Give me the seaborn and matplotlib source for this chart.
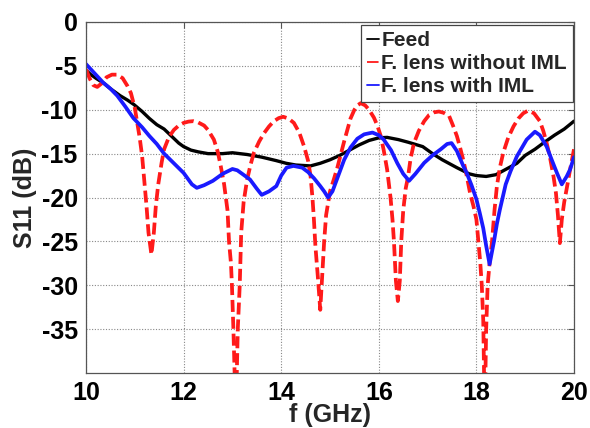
import matplotlib
matplotlib.use("Agg")
import matplotlib.pyplot as plt
import seaborn as sns
import pandas as pd

# Feed horn alone
feed_f = [10.00, 10.10, 10.20, 10.37, 10.50, 10.70, 10.85, 10.98, 11.15, 11.30,
          11.45, 11.60, 11.75, 11.90, 12.00, 12.15, 12.30, 12.50, 12.80, 13.00,
          13.30, 13.60, 13.90, 14.10, 14.30, 14.60, 14.80, 15.00, 15.20, 15.40,
          15.60, 15.80, 16.00, 16.17, 16.40, 16.60, 16.90, 17.10, 17.30, 17.60,
          17.85, 18.00, 18.20, 18.40, 18.60, 18.83, 19.00, 19.20, 19.37, 19.60,
          19.80, 20.00]
feed_s11 = [-5.5, -6.0, -6.4, -7.0, -7.6, -8.4, -8.9, -9.4, -10.2, -11.0,
            -11.7, -12.2, -13.0, -13.8, -14.2, -14.6, -14.8, -15.0, -15.0, -14.9,
            -15.1, -15.4, -15.8, -16.1, -16.3, -16.4, -16.1, -15.7, -15.2, -14.6,
            -14.0, -13.5, -13.2, -13.15, -13.4, -13.7, -14.2, -15.0, -15.7, -16.6,
            -17.3, -17.5, -17.6, -17.4, -16.8, -16.1, -15.2, -14.5, -13.8, -12.9,
            -12.2, -11.3]

# Fresnel lens without impedance matching layer
nolayer_f = [10.00, 10.08, 10.15, 10.23, 10.32, 10.42, 10.53, 10.64, 10.75, 10.85,
             10.92, 11.00, 11.05, 11.10, 11.15, 11.20, 11.24, 11.28, 11.34, 11.39,
             11.43, 11.48, 11.55, 11.60, 11.70, 11.80, 11.90, 12.00, 12.10, 12.20,
             12.30, 12.42, 12.50, 12.62, 12.70, 12.76, 12.83, 12.90, 12.93, 12.97,
             12.99, 13.02, 13.07, 13.11, 13.15, 13.18, 13.23, 13.30, 13.37, 13.44,
             13.55, 13.65, 13.75, 13.85, 13.95, 14.04, 14.15, 14.26, 14.37, 14.47,
             14.55, 14.60, 14.64, 14.67, 14.70, 14.75, 14.80, 14.84, 14.88, 14.92,
             15.00, 15.08, 15.15, 15.22, 15.29, 15.36, 15.42, 15.50, 15.56, 15.63,
             15.72, 15.80, 15.90, 15.97, 16.04, 16.10, 16.17, 16.24, 16.28, 16.31,
             16.35, 16.39, 16.43, 16.46, 16.50, 16.55, 16.60, 16.65, 16.72, 16.82,
             16.93, 17.03, 17.13, 17.23, 17.33, 17.44, 17.52, 17.60, 17.66, 17.73,
             17.80, 17.87, 17.94, 18.00, 18.04, 18.08, 18.11, 18.14, 18.17, 18.20,
             18.23, 18.27, 18.32, 18.37, 18.42, 18.48, 18.55, 18.65, 18.76, 18.86,
             18.96, 19.06, 19.18, 19.30, 19.37, 19.44, 19.51, 19.58, 19.63, 19.67,
             19.71, 19.75, 19.80, 19.85, 19.92, 20.00]
nolayer_s11 = [-5.4, -6.5, -7.2, -7.4, -7.0, -6.3, -6.0, -6.0, -6.4, -7.3,
               -8.1, -9.8, -11.5, -13.2, -15.3, -18.5, -21.0, -24.0, -26.5, -24.0,
               -21.0, -18.5, -16.0, -14.5, -13.1, -12.3, -11.8, -11.5, -11.35, -11.3,
               -11.45, -11.8, -12.3, -13.4, -14.8, -16.4, -18.5, -21.5, -25.0, -27.5,
               -30.0, -35.0, -45.0, -35.0, -30.0, -24.0, -20.5, -18.0, -16.3, -14.9,
               -13.6, -12.65, -11.9, -11.3, -10.95, -10.8, -11.0, -11.5, -12.6, -14.2,
               -15.8, -17.5, -20.0, -22.5, -25.5, -29.0, -32.8, -29.0, -25.0, -22.0,
               -19.3, -17.9, -16.6, -15.1, -13.6, -12.2, -11.0, -10.0, -9.5, -9.25,
               -9.5, -10.0, -10.9, -11.8, -13.0, -14.6, -16.8, -20.0, -22.5, -25.0,
               -29.5, -31.8, -29.5, -25.0, -21.5, -19.0, -17.6, -15.6, -13.8, -12.4,
               -11.3, -10.6, -10.3, -10.2, -10.35, -10.7, -11.8, -13.0, -14.2, -15.7,
               -17.5, -19.5, -21.0, -22.5, -25.0, -27.5, -30.0, -34.0, -45.0, -35.0,
               -30.0, -27.5, -25.0, -21.5, -18.7, -16.6, -14.9, -13.2, -11.9, -11.0,
               -10.4, -10.1, -10.4, -11.3, -12.4, -13.8, -15.5, -17.6, -19.5, -22.0,
               -25.2, -22.5, -20.5, -19.0, -16.8, -14.5]

# Fresnel lens with impedance matching layer
layer_f = [10.00, 10.10, 10.20, 10.35, 10.50, 10.64, 10.80, 10.97, 11.15, 11.30,
           11.45, 11.60, 11.80, 12.00, 12.17, 12.27, 12.42, 12.60, 12.80, 13.00,
           13.10, 13.20, 13.36, 13.50, 13.60, 13.75, 13.90, 14.00, 14.11, 14.25,
           14.43, 14.55, 14.67, 14.80, 14.88, 14.96, 15.05, 15.15, 15.29, 15.42,
           15.56, 15.70, 15.87, 16.00, 16.10, 16.25, 16.38, 16.50, 16.62, 16.75,
           16.93, 17.10, 17.27, 17.40, 17.49, 17.60, 17.73, 17.80, 17.90, 18.00,
           18.07, 18.14, 18.20, 18.27, 18.36, 18.42, 18.48, 18.60, 18.70, 18.83,
           19.03, 19.20, 19.30, 19.44, 19.55, 19.65, 19.75, 19.85, 19.92, 20.00]
layer_s11 = [-4.8, -5.4, -6.0, -6.9, -7.6, -8.4, -9.6, -10.95, -12.0, -13.0,
             -13.9, -15.0, -16.1, -17.2, -18.5, -18.9, -18.6, -18.1, -17.3, -16.75,
             -16.9, -17.3, -17.95, -19.0, -19.7, -19.3, -18.7, -17.5, -16.6, -16.4,
             -16.6, -17.1, -17.8, -18.7, -19.3, -20.0, -19.3, -17.8, -15.7, -14.3,
             -13.3, -12.8, -12.6, -12.9, -13.4, -14.6, -16.1, -17.3, -18.1, -17.3,
             -16.05, -15.2, -14.5, -13.9, -13.8, -14.7, -16.4, -17.2, -18.6, -20.2,
             -21.8, -23.5, -25.5, -27.6, -25.0, -23.0, -21.4, -18.5, -17.0, -15.3,
             -13.4, -12.5, -12.9, -14.2, -15.8, -17.2, -18.5, -17.6, -16.8, -15.4]

series_labels = ["Feed", "F. lens without IML", "F. lens with IML"]
x_ticks = [10, 12, 14, 16, 18, 20]
y_ticks = [0, -5, -10, -15, -20, -25, -30, -35]

sns.set_theme(style="white")
plt.rcParams["font.family"] = ["Liberation Sans", "DejaVu Sans"]
plt.rcParams["font.weight"] = "bold"

fig = plt.figure(figsize=(5.90, 4.28), dpi=100)
ax = fig.add_axes([0.1458, 0.1285, 0.8271, 0.8201])

feed_df = pd.DataFrame({"f": feed_f, "S11": feed_s11})
nolayer_df = pd.DataFrame({"f": nolayer_f, "S11": nolayer_s11})
layer_df = pd.DataFrame({"f": layer_f, "S11": layer_s11})

sns.lineplot(data=feed_df, x="f", y="S11", ax=ax, color="black", lw=2.4,
             label=series_labels[0], estimator=None, sort=False)
sns.lineplot(data=nolayer_df, x="f", y="S11", ax=ax, color="#ff1a1a", lw=2.7,
             label=series_labels[1], estimator=None, sort=False,
             dashes=False, linestyle=(0, (3.2, 1.3)))
sns.lineplot(data=layer_df, x="f", y="S11", ax=ax, color="#1a1aff", lw=2.7,
             label=series_labels[2], estimator=None, sort=False)

ax.set_xlim(10, 20)
ax.set_ylim(-40, 0)
ax.set_xticks(x_ticks)
ax.set_yticks(y_ticks)
ax.set_xticklabels([str(t) for t in x_ticks], fontsize=18, fontweight="bold")
ax.set_yticklabels([str(t) for t in y_ticks], fontsize=18, fontweight="bold")
ax.tick_params(direction="in", length=4, width=0.8, top=True, right=True,
               colors="#555555", labelcolor="black", pad=6)
ax.grid(True, linestyle=(0, (1, 1.5)), color="#888888", linewidth=0.8)
for side in ax.spines.values():
    side.set_color("#555555")
    side.set_linewidth(0.9)

ax.set_xlabel("f (GHz)", fontsize=18, fontweight="bold", labelpad=-2)
ax.set_ylabel("S11 (dB)", fontsize=18, fontweight="bold", labelpad=3)

leg = ax.legend(loc="upper right", bbox_to_anchor=(0.998, 0.991),
                prop={"weight": "bold", "size": 15}, frameon=True, fancybox=False,
                handlelength=0.55, handletextpad=0.12, labelspacing=0.18,
                borderpad=0.3, borderaxespad=0.0)
leg.get_frame().set_edgecolor("#444444")
leg.get_frame().set_linewidth(0.9)
leg.get_frame().set_alpha(1.0)
# thin legend keys, red one dash-dot
for handle, style in zip(leg.get_lines(), ["-", "-.", "-"]):
    handle.set_linewidth(1.3)
    handle.set_linestyle(style)

fig.savefig("out.png", dpi=100)
